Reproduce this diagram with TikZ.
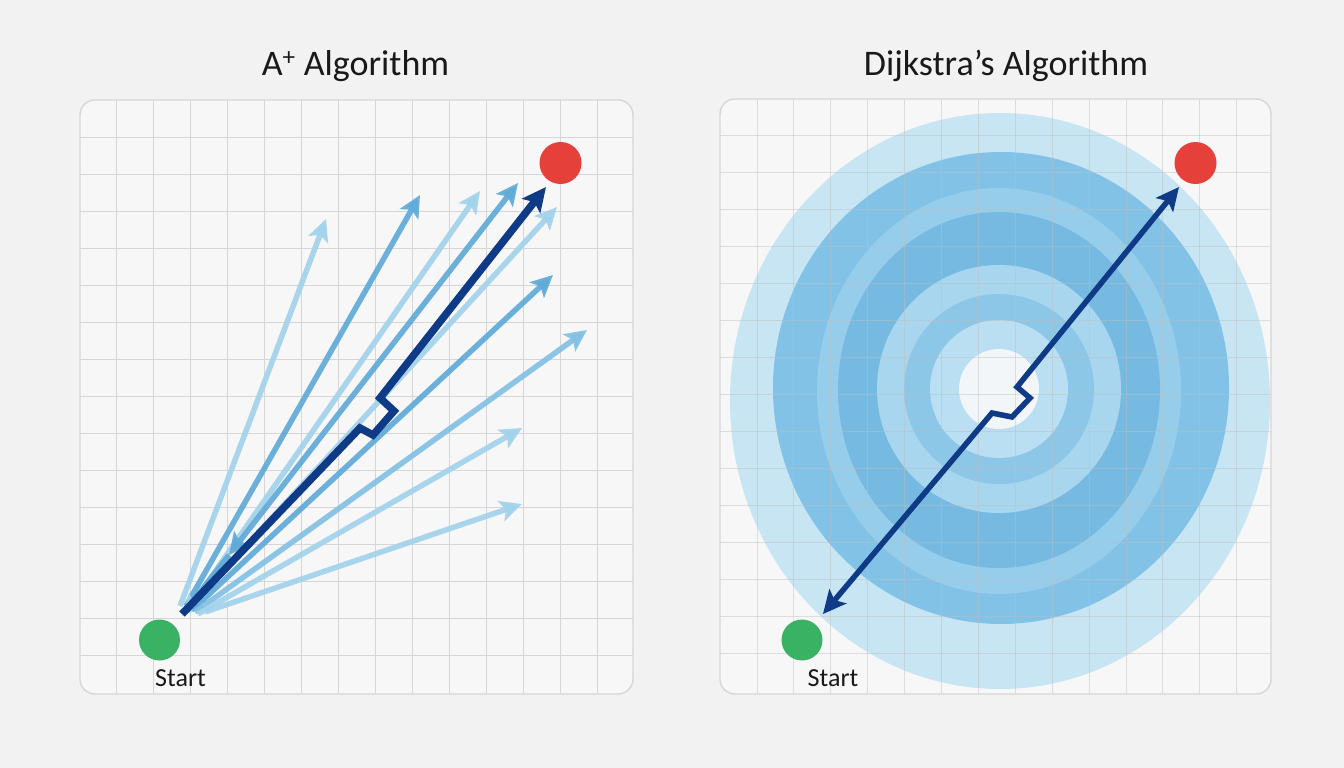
\documentclass[tikz,border=0pt]{standalone}
\usepackage{fontspec}
\setmainfont{Carlito}
\usetikzlibrary{arrows.meta}
\definecolor{bg}{RGB}{242,242,242}
\definecolor{panel}{RGB}{247,247,247}
\definecolor{gridc}{RGB}{214,214,214}
\definecolor{bordc}{RGB}{214,214,214}
\definecolor{lightb}{RGB}{162,211,236}
\definecolor{midlb}{RGB}{130,192,228}
\definecolor{midb}{RGB}{96,170,216}
\definecolor{darkb}{RGB}{14,58,134}
\definecolor{startg}{RGB}{58,178,100}
\definecolor{goalr}{RGB}{230,64,58}
\definecolor{ringA}{RGB}{200,229,243}
\definecolor{ringB}{RGB}{130,194,230}
\definecolor{ringC}{RGB}{150,205,234}
\definecolor{ringD}{RGB}{118,186,226}
\definecolor{ringE}{RGB}{168,214,238}
\definecolor{ringF}{RGB}{140,199,232}
\definecolor{ringG}{RGB}{186,222,242}
\definecolor{ringH}{RGB}{243,246,248}
\begin{document}
\begin{tikzpicture}[x=1pt,y=-1pt,
  gridline/.style={draw=gridc, line width=1pt},
  panelbox/.style={draw=bordc, line width=1.4pt, rounded corners=15pt},
  headtip/.tip={Stealth[length=22pt,width=21pt,inset=5pt]},
  lightarrow/.style={draw=lightb, line width=5.5pt, -headtip, opacity=0.92},
  midlarrow/.style={draw=midlb, line width=5.5pt, -headtip, opacity=0.92},
  midarrow/.style={draw=midb, line width=5.5pt, -headtip, opacity=0.92},
  darkpath/.style={draw=darkb, line width=7.5pt, line join=miter, -{Stealth[length=24pt,width=23pt,inset=5pt]}},
  darkpath2/.style={draw=darkb, line width=5.5pt, line join=miter, {Stealth[length=23pt,width=22pt,inset=5pt]}-{Stealth[length=23pt,width=22pt,inset=5pt]}},
  startdot/.style={circle, fill=startg, minimum size=41pt, inner sep=0pt},
  goaldot/.style={circle, fill=goalr, minimum size=42pt, inner sep=0pt},
  titletext/.style={font=\fontsize{36}{40}\selectfont, anchor=base, text=black!90},
  labeltext/.style={font=\fontsize{26}{30}\selectfont, text=black!90}
]
\useasboundingbox (0,0) rectangle (1344,768);
\fill[bg] (0,0) rectangle (1344,768);

% titles
\node[titletext] (t1) at (355.5,75) {A\textsuperscript{+} Algorithm};
\node[titletext] (t2) at (1006,75) {Dijkstra’s Algorithm};

% ---------- left panel ----------
\fill[panel, rounded corners=15pt] (80,100) rectangle (633,694);
\begin{scope}
\clip[rounded corners=15pt] (80,100) rectangle (633,694);
\foreach \i in {0,...,13} \draw[gridline] ({116+37*\i},100) -- ({116+37*\i},694);
\foreach \j in {0,...,14} \draw[gridline] (80,{137+37*\j}) -- (633,{137+37*\j});
\end{scope}
\draw[panelbox] (80,100) rectangle (633,694);

\node[startdot] (s1) at (159.5,640) {};
\node[goaldot] (g1) at (560.5,163) {};
\node[labeltext] (l1) at (180.5,678) {Start};

\coordinate (a1s) at (180,606); \coordinate (a1e) at (326,219);
\coordinate (a2s) at (186,606); \coordinate (a2e) at (420,195);
\coordinate (a3s) at (189,609); \coordinate (a3e) at (480,191);
\coordinate (a4s) at (186,610); \coordinate (a4m) at (229,555); \coordinate (a4e) at (518,183);
\coordinate (a6s) at (182,616); \coordinate (a6e) at (557,207);
\coordinate (a7s) at (192,610); \coordinate (a7e) at (553,275);
\coordinate (a8s) at (195,612); \coordinate (a8e) at (587,330);
\coordinate (a9s) at (198,614); \coordinate (a9e) at (522,428);
\coordinate (a10s) at (205,612); \coordinate (a10e) at (522,504);

\draw[lightarrow] (a1s) -- (a1e);
\draw[midarrow] (a2s) -- (a2e);
\draw[lightarrow] (a3s) -- (a3e);
\draw[midarrow, -] (a4s) -- (a4m);
\draw[midarrow, headtip-headtip] (a4m) -- (a4e);
\draw[lightarrow, headtip-headtip] (a6s) -- (a6e);
\draw[midarrow] (a7s) -- (a7e);
\draw[midlarrow] (a8s) -- (a8e);
\draw[lightarrow] (a9s) -- (a9e);
\draw[lightarrow] (a10s) -- (a10e);

\coordinate (d0) at (182,614);
\coordinate (d1) at (360,428);
\coordinate (d2) at (373,435);
\coordinate (d3) at (394,411);
\coordinate (d4) at (380,398);
\coordinate (d5) at (546,187);
\draw[darkpath] (d0) -- (d1) -- (d2) -- (d3) -- (d4) -- (d5);

% ---------- right panel ----------
\fill[panel, rounded corners=15pt] (720,99) rectangle (1271,694);
\begin{scope}
\clip[rounded corners=15pt] (720,99) rectangle (1271,694);
\fill[ringA] (1000,401) ellipse [x radius=270pt, y radius=288pt];
\fill[ringB] (1001,388) ellipse [x radius=228pt, y radius=236pt];
\fill[ringC] (999,391) ellipse [x radius=182pt, y radius=203pt];
\fill[ringD] (999,390) ellipse [x radius=161pt, y radius=178pt];
\fill[ringE] (999,389) ellipse [x radius=122pt, y radius=124pt];
\fill[ringF] (999,389) circle [radius=95pt];
\fill[ringG] (999,389) circle [radius=69pt];
\fill[ringH] (999,389) circle [radius=40pt];
\foreach \i in {0,...,13} \draw[gridline, draw=black!25, opacity=0.45] ({757+36.9*\i},99) -- ({757+36.9*\i},694);
\foreach \j in {0,...,14} \draw[gridline, draw=black!25, opacity=0.45] (720,{135.5+37*\j}) -- (1271,{135.5+37*\j});
\end{scope}
\draw[panelbox] (720,99) rectangle (1271,694);

\node[startdot] (s2) at (802,640) {};
\node[goaldot] (g2) at (1195.5,163) {};
\node[labeltext] (l2) at (833,678) {Start};

\coordinate (e0) at (823,614);
\coordinate (e1) at (992,413);
\coordinate (e2) at (1012,417);
\coordinate (e3) at (1030,398);
\coordinate (e4) at (1017,387);
\coordinate (e5) at (1179,187);
\draw[darkpath2] (e0) -- (e1) -- (e2) -- (e3) -- (e4) -- (e5);
\end{tikzpicture}
\end{document}
